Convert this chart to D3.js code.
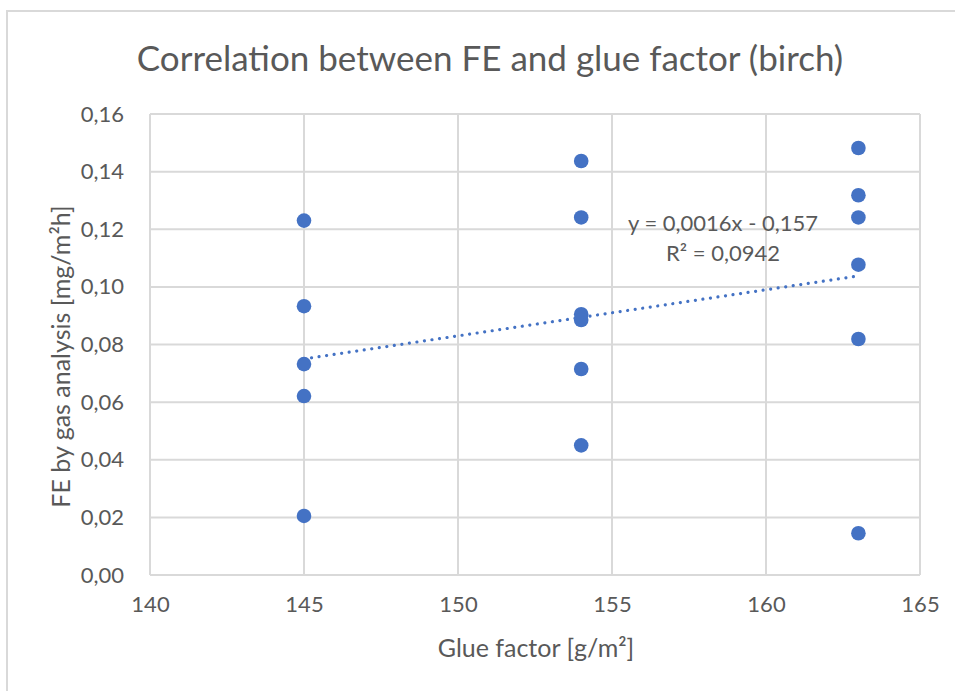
<!DOCTYPE html>
<html>
<head>
<meta charset="utf-8">
<script src="https://cdn.jsdelivr.net/npm/d3@7"></script>
<style>
  html, body { margin: 0; padding: 0; background: #ffffff; }
  svg { display: block; }
  text { font-family: Lato, "Open Sans", sans-serif; fill: #595959; }
</style>
</head>
<body>
<script>
// Glue factor [g/m²] for each birch sample
const glueFactor = [145, 145, 145, 145, 145,
                    154, 154, 154, 154, 154, 154,
                    163, 163, 163, 163, 163, 163];
// FE by gas analysis [mg/m²h]
const feValues = [0.123, 0.0933, 0.0732, 0.0621, 0.0205,
                  0.1437, 0.1241, 0.0905, 0.0885, 0.0715, 0.0450,
                  0.1482, 0.1318, 0.1241, 0.1077, 0.0819, 0.0145];
// Linear trend line as stated in the chart
const trendSlope = 0.0016;
const trendIntercept = -0.157;
const trendLabel = ["y = 0,0016x - 0,157", "R² = 0,0942"];
const xTicks = [140, 145, 150, 155, 160, 165];
const yTicks = [0, 0.02, 0.04, 0.06, 0.08, 0.10, 0.12, 0.14, 0.16];

const W = 955, H = 691;
const margin = { left: 150, right: 35, top: 114, bottom: 116 };

const svg = d3.select("body").append("svg").attr("width", W).attr("height", H);

// chart area border
svg.append("rect")
  .attr("x", 7).attr("y", 11).attr("width", W + 10).attr("height", H + 10)
  .attr("fill", "#ffffff").attr("stroke", "#d9d9d9").attr("stroke-width", 2);

const x = d3.scaleLinear().domain([140, 165]).range([margin.left, W - margin.right]);
const y = d3.scaleLinear().domain([0, 0.16]).range([H - margin.bottom, margin.top]);

const fmt = v => d3.format(".2f")(v).replace(".", ",");

// gridlines
const grid = svg.append("g");
grid.selectAll(".hg").data(yTicks).join("line")
  .attr("x1", x(140)).attr("x2", x(165))
  .attr("y1", d => y(d)).attr("y2", d => y(d))
  .attr("stroke", "#d9d9d9").attr("stroke-width", 2);
grid.selectAll(".vg").data(xTicks).join("line")
  .attr("x1", d => x(d)).attr("x2", d => x(d))
  .attr("y1", y(0)).attr("y2", y(0.16))
  .attr("stroke", "#d9d9d9").attr("stroke-width", 2);

// axes (labels only, lines drawn by the grid)
const yAxis = svg.append("g")
  .attr("transform", `translate(${x(140) - 23},0)`)
  .call(d3.axisLeft(y).tickValues(yTicks).tickFormat(fmt).tickSize(0));
yAxis.select(".domain").remove();
yAxis.selectAll("text").attr("font-size", 22).attr("fill", "#595959")
  .style("font-family", "Lato, sans-serif").attr("dx", 0);

const xAxis = svg.append("g")
  .attr("transform", `translate(0,${y(0) + 18})`)
  .call(d3.axisBottom(x).tickValues(xTicks).tickFormat(d3.format("d")).tickSize(0));
xAxis.select(".domain").remove();
xAxis.selectAll("text").attr("font-size", 22).attr("fill", "#595959")
  .style("font-family", "Lato, sans-serif");

// title
svg.append("text")
  .attr("x", 490).attr("y", 71)
  .attr("text-anchor", "middle").attr("font-size", 35)
  .text("Correlation between FE and glue factor (birch)");

// axis titles
svg.append("text")
  .attr("x", 536).attr("y", 657)
  .attr("text-anchor", "middle").attr("font-size", 25)
  .text("Glue factor [g/m²]");
svg.append("text")
  .attr("transform", `translate(70,${(y(0) + y(0.16)) / 2 + 12}) rotate(-90)`)
  .attr("text-anchor", "middle").attr("font-size", 25)
  .text("FE by gas analysis [mg/m²h]");

// points
const pts = glueFactor.map((g, i) => ({ g, v: feValues[i] }));
svg.append("g").selectAll("circle").data(pts).join("circle")
  .attr("cx", d => x(d.g)).attr("cy", d => y(d.v)).attr("r", 7.3)
  .attr("fill", "#4472c4");

// dotted linear trend line
const [gMin, gMax] = d3.extent(glueFactor);
const trend = [gMin, gMax].map(g => ({ g, v: trendSlope * g + trendIntercept }));
svg.append("path")
  .datum(trend)
  .attr("d", d3.line().x(d => x(d.g)).y(d => y(d.v)))
  .attr("fill", "none").attr("stroke", "#4472c4").attr("stroke-width", 3.2)
  .attr("stroke-linecap", "round").attr("stroke-dasharray", "0.01 7.6");

// trend equation
const eq = svg.append("text").attr("text-anchor", "middle").attr("font-size", 22);
eq.selectAll("tspan").data(trendLabel).join("tspan")
  .attr("x", 723).attr("y", (d, i) => 231 + i * 30).text(d => d);
</script>
</body>
</html>
